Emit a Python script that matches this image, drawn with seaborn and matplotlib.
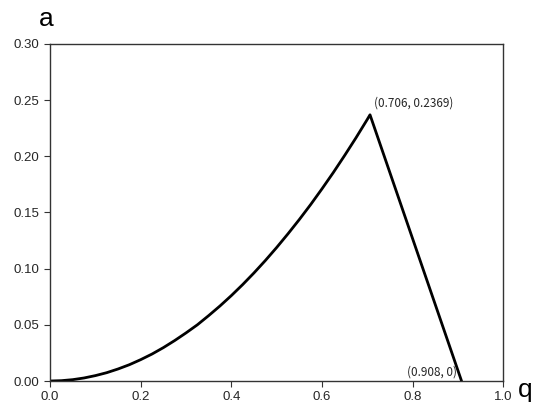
import matplotlib
matplotlib.use('Agg')
import matplotlib.pyplot as plt
import seaborn as sns

q = [0.0, 0.025, 0.05, 0.075, 0.1, 0.125, 0.15, 0.175, 0.2, 0.225, 0.25,
     0.275, 0.3, 0.325, 0.35, 0.375, 0.4, 0.425, 0.45, 0.475, 0.5,
     0.525, 0.55, 0.575, 0.6, 0.625, 0.65, 0.675, 0.7, 0.706, 0.908]
a = [0.0, 0.0003, 0.0012, 0.0027, 0.0048, 0.0074, 0.0107, 0.0145, 0.019, 0.024, 0.0297,
     0.036, 0.0428, 0.050, 0.0582, 0.0668, 0.076, 0.0858, 0.0962, 0.1072, 0.1188,
     0.131, 0.1437, 0.157, 0.171, 0.1855, 0.2007, 0.2164, 0.2328, 0.2369, 0.0]

peak = (0.706, 0.2369)
end = (0.908, 0)

sns.set_style('ticks')
plt.rcParams['font.family'] = ['Noto Sans CJK SC', 'DejaVu Sans']

fig = plt.figure(figsize=(5.5, 4.18), dpi=100)
ax = fig.add_axes([0.091, 0.0885, 0.824, 0.8065])
sns.lineplot(x=q, y=a, sort=False, estimator=None, color='black', linewidth=2, ax=ax)

ax.set_xlim(0, 1.0)
ax.set_ylim(0, 0.30)
ax.set_xticks([0, 0.2, 0.4, 0.6, 0.8, 1.0])
ax.set_xticklabels(['0.0', '0.2', '0.4', '0.6', '0.8', '1.0'])
ax.set_yticks([0, 0.05, 0.10, 0.15, 0.20, 0.25, 0.30])
ax.set_yticklabels(['0.00', '0.05', '0.10', '0.15', '0.20', '0.25', '0.30'])
ax.tick_params(labelsize=9.5, direction='out', length=4, color='#333333')
for lab in ax.get_xticklabels() + ax.get_yticklabels():
    lab.set_family('Liberation Sans')
for s in ax.spines.values():
    s.set_color('#333333')
    s.set_linewidth(1)

ax.annotate(f'({peak[0]}, {peak[1]})', xy=peak, xytext=(3, 4),
            textcoords='offset points', fontsize=8.5, ha='left', va='bottom')
ax.annotate(f'({end[0]}, {end[1]})', xy=end, xytext=(-3, 2),
            textcoords='offset points', fontsize=8.5, ha='right', va='bottom')

fig.text(0.085, 0.955, 'a', fontsize=19, ha='center', va='center',
         family='Liberation Sans', color='black')
fig.text(0.955, 0.068, 'q', fontsize=19, ha='center', va='center',
         family='Liberation Sans', color='black')

fig.savefig('out.png', dpi=100)
